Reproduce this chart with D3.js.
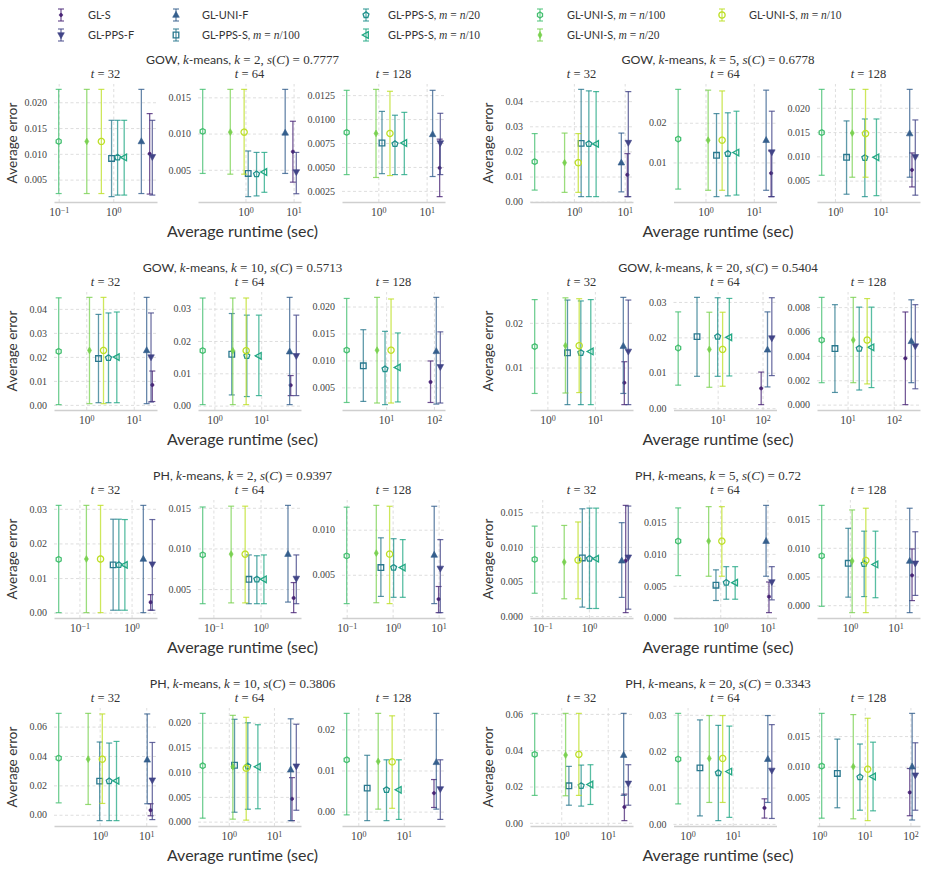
<!DOCTYPE html>
<html>
<head>
<meta charset="utf-8">
<script src="https://cdn.jsdelivr.net/npm/d3@7"></script>
<style>
  body { margin: 0; background: #fff; }
</style>
</head>
<body>
<div id="chart"></div>
<script>
// series, in legend order
var seriesNames = ["GL-S", "GL-PPS-F", "GL-UNI-F", "GL-PPS-S", "GL-PPS-S", "GL-PPS-S", "GL-UNI-S", "GL-UNI-S", "GL-UNI-S"];
var sampleSizes = [null, null, null, "100", "20", "10", "100", "20", "10"];

// group titles
var datasets = ["GOW", "GOW", "GOW", "GOW", "PH", "PH", "PH", "PH"];
var kValues = [2, 5, 10, 20, 2, 5, 10, 20];
var scores = ["0.7777", "0.6778", "0.5713", "0.5404", "0.9397", "0.72", "0.3806", "0.3343"];
var tValues = ["32", "64", "128"];

// rows: [runtime (sec), average error, error low, error high], one row per series
var gow2_t32 = [[4.64,0.0100,0.0022,0.0178],[5.19,0.0094,0.0020,0.0165],[3.27,0.0124,0.0023,0.0225],[0.93,0.0091,0.0017,0.0165],[1.20,0.0093,0.0020,0.0165],[1.585,0.0093,0.0020,0.0165],[0.10,0.0124,0.0023,0.0225],[0.327,0.0124,0.0023,0.0225],[0.605,0.0124,0.0023,0.0225]];
var gow2_t64 = [[9.68,0.0075,0.0033,0.0117],[11.4,0.0047,0.0017,0.0074],[6.69,0.0101,0.0045,0.0161],[1.14,0.0045,0.0013,0.0076],[1.70,0.0044,0.0014,0.0074],[2.47,0.0047,0.0019,0.0074],[0.129,0.0103,0.0045,0.0161],[0.484,0.0102,0.0044,0.0161],[0.938,0.0102,0.0044,0.0161]];
var gow2_t128 = [[18.6,0.0049,0.0019,0.0079],[19.2,0.0075,0.0042,0.0106],[13.3,0.0084,0.0040,0.0130],[1.19,0.0075,0.0043,0.0108],[2.21,0.0074,0.0042,0.0104],[3.45,0.0075,0.0042,0.0107],[0.221,0.0086,0.0042,0.0130],[0.895,0.0085,0.0039,0.0131],[1.74,0.0085,0.0041,0.0129]];

var gow5_t32 = [[11.3,0.0107,0.0020,0.0191],[11.8,0.0235,0.0020,0.0438],[8.6,0.0155,0.0039,0.0273],[1.39,0.0232,0.0020,0.0447],[1.97,0.0230,0.0020,0.0441],[2.74,0.0230,0.0020,0.0438],[0.169,0.0159,0.0046,0.0271],[0.656,0.0155,0.0037,0.0273],[1.22,0.0155,0.0037,0.0271]];
var gow5_t64 = [[22.8,0.0073,0.0014,0.0129],[23.6,0.0126,0.0014,0.0229],[18.0,0.0156,0.0030,0.0282],[1.69,0.0118,0.0014,0.0223],[2.90,0.0122,0.0016,0.0225],[4.38,0.0125,0.0018,0.0229],[0.272,0.0159,0.0033,0.0284],[1.135,0.0156,0.0030,0.0282],[2.21,0.0156,0.0030,0.0280]];
var gow5_t128 = [[49.3,0.0072,0.0037,0.0107],[58.4,0.0099,0.0020,0.0175],[43.9,0.0147,0.0057,0.0238],[1.80,0.0098,0.0022,0.0173],[4.54,0.0097,0.0017,0.0177],[8.17,0.0098,0.0019,0.0177],[0.511,0.0149,0.0061,0.0238],[2.40,0.0148,0.0057,0.0238],[4.70,0.0147,0.0057,0.0238]];

var gow10_t32 = [[24.6,0.0083,0.0014,0.0141],[23.1,0.0199,0.0012,0.0383],[18.7,0.0227,0.0005,0.0448],[1.81,0.0193,0.0009,0.0377],[2.94,0.0196,0.0009,0.0383],[4.40,0.0199,0.0009,0.0387],[0.263,0.0223,0.0001,0.0446],[1.17,0.0227,0.0005,0.0448],[2.31,0.0227,0.0005,0.0448]];
var gow10_t64 = [[42.6,0.0063,0.0031,0.0093],[56.2,0.0154,0.0031,0.0280],[40.5,0.0167,0.0003,0.0335],[2.35,0.0159,0.0033,0.0285],[4.93,0.0154,0.0028,0.0280],[8.9,0.0154,0.0031,0.0280],[0.562,0.0170,0.0003,0.0333],[2.47,0.0170,0.0003,0.0333],[4.77,0.0170,0.0003,0.0333]];
var gow10_t128 = [[85,0.0060,0.0022,0.0099],[136,0.0088,0.0021,0.0153],[112,0.0117,0.0019,0.0217],[3.34,0.0090,0.0024,0.0157],[9.5,0.0084,0.0018,0.0154],[17.6,0.0087,0.0023,0.0151],[1.50,0.0119,0.0022,0.0215],[6.47,0.0119,0.0021,0.0217],[12.7,0.0119,0.0021,0.0214]];

var gow20_t32 = [[41.7,0.0066,0.0017,0.0113],[50.6,0.0136,0.0017,0.0251],[39.7,0.0148,0.0042,0.0257],[2.65,0.0133,0.0017,0.0251],[5.06,0.0133,0.0017,0.0249],[8.2,0.0136,0.0017,0.0252],[0.54,0.0147,0.0042,0.0252],[2.40,0.0149,0.0043,0.0256],[4.67,0.0149,0.0044,0.0254]];
var gow20_t64 = [[93.3,0.0056,0.0010,0.0102],[161,0.0198,0.0092,0.0312],[129,0.0165,0.0060,0.0272],[3.47,0.0202,0.0090,0.0313],[10.0,0.0202,0.0090,0.0312],[18.2,0.0200,0.0091,0.0310],[1.32,0.0170,0.0065,0.0272],[6.53,0.0166,0.0059,0.0271],[12.9,0.0166,0.0062,0.0271]];
var gow20_t128 = [[179,0.0038,0.0000,0.0076],[294,0.0048,0.0013,0.0082],[241,0.0052,0.0018,0.0086],[5.33,0.0046,0.0010,0.0082],[17.9,0.0046,0.0012,0.0080],[33.0,0.0047,0.0014,0.0080],[2.75,0.0053,0.0018,0.0088],[13.3,0.0053,0.0018,0.0088],[26.6,0.0053,0.0017,0.0087]];

var ph2_t32 = [[2.32,0.0030,0.0007,0.0052],[2.50,0.0140,0.0007,0.0269],[1.68,0.0155,0.0000,0.0310],[0.443,0.0138,0.0007,0.0270],[0.570,0.0138,0.0007,0.0270],[0.744,0.0138,0.0007,0.0269],[0.040,0.0154,0.0000,0.0310],[0.136,0.0155,0.0000,0.0310],[0.254,0.0155,0.0000,0.0310]];
var ph2_t64 = [[5.04,0.0039,0.0021,0.0058],[5.74,0.0063,0.0032,0.0092],[3.82,0.0093,0.0034,0.0153],[0.565,0.0062,0.0032,0.0092],[0.836,0.0062,0.0032,0.0091],[1.18,0.0062,0.0032,0.0092],[0.0593,0.0092,0.0032,0.0151],[0.238,0.0093,0.0033,0.0152],[0.472,0.0093,0.0033,0.0152]];
var ph2_t128 = [[10.0,0.0023,0.0008,0.0037],[10.9,0.0057,0.0008,0.0089],[8.03,0.0072,0.0018,0.0126],[0.555,0.0058,0.0026,0.0091],[1.05,0.0058,0.0025,0.0090],[1.66,0.0058,0.0025,0.0089],[0.100,0.0071,0.0018,0.0125],[0.441,0.0074,0.0019,0.0127],[0.859,0.0073,0.0018,0.0126]];

var ph5_t32 = [[6.15,0.0080,0.0005,0.0160],[7.0,0.0085,0.0010,0.0159],[5.06,0.0080,0.0027,0.0135],[0.723,0.0084,0.0013,0.0155],[1.03,0.0083,0.0011,0.0156],[1.43,0.0083,0.0011,0.0156],[0.0689,0.0082,0.0033,0.0130],[0.296,0.0078,0.0025,0.0131],[0.586,0.0081,0.0025,0.0136]];
var ph5_t64 = [[10.8,0.0033,0.0008,0.0056],[12.4,0.0056,0.0028,0.0080],[9.37,0.0120,0.0065,0.0176],[0.81,0.0051,0.0027,0.0075],[1.34,0.0055,0.0029,0.0080],[2.07,0.0055,0.0029,0.0080],[0.128,0.0120,0.0066,0.0172],[0.567,0.0120,0.0065,0.0174],[1.08,0.0120,0.0065,0.0174]];
var ph5_t128 = [[23.2,0.0052,0.0008,0.0098],[27.4,0.0073,0.0017,0.0128],[20.6,0.0077,-0.0013,0.0169],[0.92,0.0073,0.0014,0.0134],[2.06,0.0072,0.0015,0.0129],[3.65,0.0071,0.0013,0.0129],[0.24,0.0086,-0.0002,0.0174],[1.12,0.0077,-0.0013,0.0166],[2.24,0.0078,-0.0013,0.0169]];

var ph10_t32 = [[12.4,0.0031,-0.0007,0.0075],[13.5,0.0235,-0.0033,0.0492],[10.5,0.0374,0.0075,0.0686],[1.00,0.0229,-0.0040,0.0495],[1.60,0.0229,-0.0040,0.0488],[2.30,0.0231,-0.0040,0.0499],[0.132,0.0385,0.0081,0.0690],[0.567,0.0378,0.0070,0.0690],[1.14,0.0378,0.0077,0.0686]];
var ph10_t64 = [[25.1,0.0046,0.0002,0.0089],[31.3,0.0112,0.0023,0.0197],[23.5,0.0105,0.0002,0.0208],[1.34,0.0114,0.0019,0.0207],[2.64,0.0112,0.0025,0.0200],[4.41,0.0111,0.0026,0.0196],[0.264,0.0113,0.0007,0.0219],[1.23,0.0111,0.0005,0.0215],[2.43,0.0108,0.0003,0.0211]];
var ph10_t128 = [[46.1,0.0045,0.0010,0.0078],[63.5,0.0055,-0.0019,0.0126],[51.9,0.0120,0.0006,0.0239],[1.57,0.0057,-0.0022,0.0137],[4.17,0.0053,-0.0022,0.0126],[7.78,0.0053,-0.0019,0.0126],[0.556,0.0126,-0.0008,0.0239],[2.74,0.0122,0.0006,0.0239],[5.55,0.0121,0.0008,0.0233]];

var ph20_t32 = [[22.8,0.0087,0.0012,0.0158],[27.7,0.0217,0.0097,0.0320],[22.0,0.0373,0.0151,0.0603],[1.46,0.0204,0.0097,0.0311],[2.68,0.0204,0.0092,0.0318],[4.25,0.0211,0.0101,0.0320],[0.268,0.0377,0.0151,0.0603],[1.24,0.0373,0.0149,0.0603],[2.39,0.0377,0.0151,0.0603]];
var ph20_t64 = [[50.6,0.0044,0.0016,0.0069],[73.6,0.0147,0.0015,0.0273],[60.0,0.0178,0.0059,0.0298],[1.88,0.0154,0.0022,0.0286],[4.80,0.0140,0.0009,0.0271],[8.43,0.0144,0.0018,0.0269],[0.62,0.0178,0.0055,0.0304],[3.03,0.0180,0.0059,0.0298],[6.0,0.0180,0.0059,0.0298]];
var ph20_t128 = [[96.7,0.0058,0.0020,0.0097],[128,0.0086,0.0029,0.0139],[109,0.0100,0.0013,0.0187],[2.51,0.0089,0.0033,0.0145],[7.85,0.0083,0.0029,0.0137],[15.2,0.0084,0.0028,0.0140],[1.14,0.0101,0.0016,0.0187],[5.61,0.0100,0.0015,0.0185],[11.6,0.0096,0.0012,0.0179]];

// y tick labels per panel
var yTickValues = [
    [[0.005,0.010,0.015,0.020], [0.005,0.010,0.015], [0.0025,0.005,0.0075,0.010,0.0125]],
    [[0,0.01,0.02,0.03,0.04], [0.01,0.02], [0.005,0.010,0.015,0.020]],
    [[0,0.01,0.02,0.03,0.04], [0,0.01,0.02,0.03], [0.005,0.010,0.015,0.020]],
    [[0.01,0.02], [0,0.01,0.02,0.03], [0,0.002,0.004,0.006,0.008]],
    [[0,0.01,0.02,0.03], [0.005,0.010,0.015], [0.005,0.010]],
    [[0,0.005,0.010,0.015], [0,0.005,0.010,0.015], [0,0.005,0.010,0.015]],
    [[0,0.02,0.04,0.06], [0,0.005,0.010,0.015,0.020], [0,0.01,0.02]],
    [[0,0.02,0.04,0.06], [0,0.01,0.02,0.03], [0.005,0.010,0.015]]
];

var panelData = [
    [gow2_t32, gow2_t64, gow2_t128], [gow5_t32, gow5_t64, gow5_t128],
    [gow10_t32, gow10_t64, gow10_t128], [gow20_t32, gow20_t64, gow20_t128],
    [ph2_t32, ph2_t64, ph2_t128], [ph5_t32, ph5_t64, ph5_t128],
    [ph10_t32, ph10_t64, ph10_t128], [ph20_t32, ph20_t64, ph20_t128]
];

var colors = seriesNames.map(function(d, i) { return d3.interpolateViridis(0.1 * (i + 1)); });
var shapes = ["dot", "triDown", "triUp", "square", "pentagon", "triLeft", "hexagon", "diamond", "circle"];
var filled = [true, true, true, false, false, false, false, true, false];

var sans = "Lato, 'Open Sans', sans-serif";
var serif = "'Liberation Serif', 'DejaVu Serif', serif";
var textColor = "#333";

// layout
var width = 928, height = 871;
var colLeft = [54, 530], panelStep = [144, 143.5];
var rowTop = [84, 292, 500, 708];
var panelW = 103, panelH = 118;

var svg = d3.select("#chart").append("svg")
    .attr("width", width)
    .attr("height", height)

function polygon(n, r, rot) {
    var pts = d3.range(n).map(function(i) {
        var a = rot + i * 2 * Math.PI / n;
        return [r * Math.sin(a), -r * Math.cos(a)];
    });
    return "M" + pts.join("L") + "Z";
}

function markerPath(shape) {
    var s = 3.3;
    switch (shape) {
        case "dot": return polygon(12, 1.7, 0);
        case "triDown": return "M" + (-s) + "," + (-s * 0.7) + "L" + s + "," + (-s * 0.7) + "L0," + (s * 1.1) + "Z";
        case "triUp": return "M" + (-s) + "," + (s * 0.7) + "L" + s + "," + (s * 0.7) + "L0," + (-s * 1.1) + "Z";
        case "square": return "M-2.8,-2.8H2.8V2.8H-2.8Z";
        case "pentagon": return polygon(5, 3.1, 0);
        case "triLeft": return "M" + (s * 0.7) + "," + (-s) + "L" + (s * 0.7) + "," + s + "L" + (-s * 1.1) + ",0Z";
        case "hexagon": return polygon(6, 2.9, 0);
        case "diamond": return "M0,-3.4L2,0L0,3.4L-2,0Z";
        case "circle": return polygon(24, 3.1, 0);
    }
}

function drawErrorbar(g, cx, cy, ylo, yhi, i) {
    var eb = g.append("g").attr("stroke", colors[i]);
    eb.append("line").attr("x1", cx).attr("x2", cx).attr("y1", ylo).attr("y2", yhi)
        .attr("stroke-width", 1.3).attr("stroke-opacity", 0.75);
    [ylo, yhi].forEach(function(yy) {
        eb.append("line").attr("x1", cx - 3).attr("x2", cx + 3).attr("y1", yy).attr("y2", yy)
            .attr("stroke-width", 1.2).attr("stroke-opacity", 0.8);
    });
    eb.append("path")
        .attr("d", markerPath(shapes[i]))
        .attr("transform", "translate(" + cx + "," + cy + ")")
        .attr("fill", filled[i] ? colors[i] : "none")
        .attr("stroke-width", filled[i] ? 0.6 : 1.3);
}

function decimals(values) {
    for (var d = 0; d < 7; d++) {
        var ok = values.every(function(v) { return Math.abs(v * Math.pow(10, d) - Math.round(v * Math.pow(10, d))) < 1e-7; });
        if (ok) return d;
    }
    return 6;
}

// math-ish text: parts are [text, style] with style "sans", "serif" or "it"
function richText(sel, parts, size) {
    parts.forEach(function(p) {
        sel.append("tspan")
            .attr("font-family", p[1] === "sans" ? sans : serif)
            .attr("font-style", p[1] === "it" ? "italic" : "normal")
            .attr("font-size", p[1] === "sans" ? size * 0.95 : size)
            .text(p[0]);
    });
}

// ---- panels
panelData.forEach(function(group, g) {
    var row = Math.floor(g / 2), col = g % 2;
    var top = rowTop[row];
    var groupLeft = colLeft[col];
    var groupCenter = groupLeft + (2 * panelStep[col] + panelW) / 2 - 7;

    // group title
    var title = svg.append("text")
        .attr("x", groupCenter).attr("y", top - 20)
        .attr("text-anchor", "middle").attr("fill", textColor);
    richText(title, [[datasets[g] + ", ", "sans"], ["k", "it"], ["-means, ", "sans"], ["k", "it"],
        [" = " + kValues[g] + ", ", "serif"], ["s", "it"], ["(", "serif"], ["C", "it"], [") = " + scores[g], "serif"]], 13);

    // y label
    svg.append("text")
        .attr("transform", "translate(" + (groupLeft - 37) + "," + (top + panelH / 2) + ") rotate(-90)")
        .attr("text-anchor", "middle")
        .attr("font-family", sans).attr("font-size", 13.5).attr("fill", textColor)
        .text("Average error");

    // x label
    svg.append("text")
        .attr("x", groupCenter).attr("y", top + panelH + 35)
        .attr("text-anchor", "middle")
        .attr("font-family", sans).attr("font-size", 16).attr("fill", textColor)
        .text("Average runtime (sec)");

    group.forEach(function(data, p) {
        var left = groupLeft + p * panelStep[col];
        var gp = svg.append("g").attr("transform", "translate(" + left + "," + top + ")");

        var lx = d3.extent(data, function(d) { return Math.log10(d[0]); });
        var px = (lx[1] - lx[0]) * 0.05;
        var x = d3.scaleLog()
            .domain([Math.pow(10, lx[0] - px), Math.pow(10, lx[1] + px)])
            .range([0, panelW]);

        var lo = d3.min(data, function(d) { return d[2]; });
        var hi = d3.max(data, function(d) { return d[3]; });
        var py = (hi - lo) * 0.05;
        var y = d3.scaleLinear()
            .domain([lo - py, hi + py])
            .range([panelH, 0]);

        // subplot title
        var st = gp.append("text")
            .attr("x", panelW / 2).attr("y", -6)
            .attr("text-anchor", "middle").attr("fill", textColor);
        richText(st, [["t", "it"], [" = " + tValues[p], "serif"]], 12.5);

        // y axis + grid
        var yt = yTickValues[g][p];
        var yAxis = gp.append("g")
            .call(d3.axisLeft(y).tickValues(yt).tickSize(-panelW).tickPadding(7)
                .tickFormat(d3.format("." + decimals(yt) + "f")));
        yAxis.select(".domain").remove();
        yAxis.selectAll(".tick line").attr("stroke", "#d6d6d6").attr("stroke-dasharray", "3,2.5").attr("stroke-width", 0.8);
        yAxis.selectAll(".tick text").attr("font-family", serif).attr("font-size", 10).attr("fill", "#444");

        // x axis + grid, decades only
        var dom = x.domain();
        var decades = d3.range(Math.ceil(Math.log10(dom[0])), Math.floor(Math.log10(dom[1])) + 1)
            .map(function(e) { return Math.pow(10, e); });
        var xAxis = gp.append("g")
            .attr("transform", "translate(0," + panelH + ")")
            .call(d3.axisBottom(x).tickValues(decades).tickSize(-panelH).tickSizeOuter(0).tickPadding(6));
        xAxis.select(".domain").attr("stroke", "#cfcfcf").attr("stroke-width", 1.4);
        xAxis.selectAll(".tick line").attr("stroke", "#d6d6d6").attr("stroke-dasharray", "3,2.5").attr("stroke-width", 0.8);
        xAxis.selectAll(".tick text")
            .attr("font-family", serif).attr("font-size", 11.5).attr("fill", "#444")
            .text(null)
            .each(function(d) {
                var e = Math.round(Math.log10(d));
                var t = d3.select(this);
                t.append("tspan").text("10");
                t.append("tspan").attr("dy", "-0.45em").attr("font-size", 8).text(e < 0 ? "\u2212" + (-e) : e);
            });

        // error bars
        data.forEach(function(d, i) {
            drawErrorbar(gp, x(d[0]), y(d[1]), y(d[2]), y(d[3]), i);
        });
    });
});

// ---- legend
var legendMarkX = [61, 176, 366, 540, 722];
var legendTextX = [88, 202, 388, 567, 749];
var legendY = [15, 35];
seriesNames.forEach(function(name, i) {
    var c = Math.floor(i / 2), r = i % 2;
    var lg = svg.append("g");
    drawErrorbar(lg, legendMarkX[c], legendY[r], legendY[r] + 6, legendY[r] - 6, i);
    var t = lg.append("text")
        .attr("x", legendTextX[c]).attr("y", legendY[r] + 3.5)
        .attr("fill", textColor);
    var parts = [[name, "sans"]];
    if (sampleSizes[i]) {
        parts = [[name + ", ", "sans"], ["m", "it"], [" = ", "serif"], ["n", "it"], ["/" + sampleSizes[i], "serif"]];
    }
    richText(t, parts, 11.5);
});
</script>
</body>
</html>
